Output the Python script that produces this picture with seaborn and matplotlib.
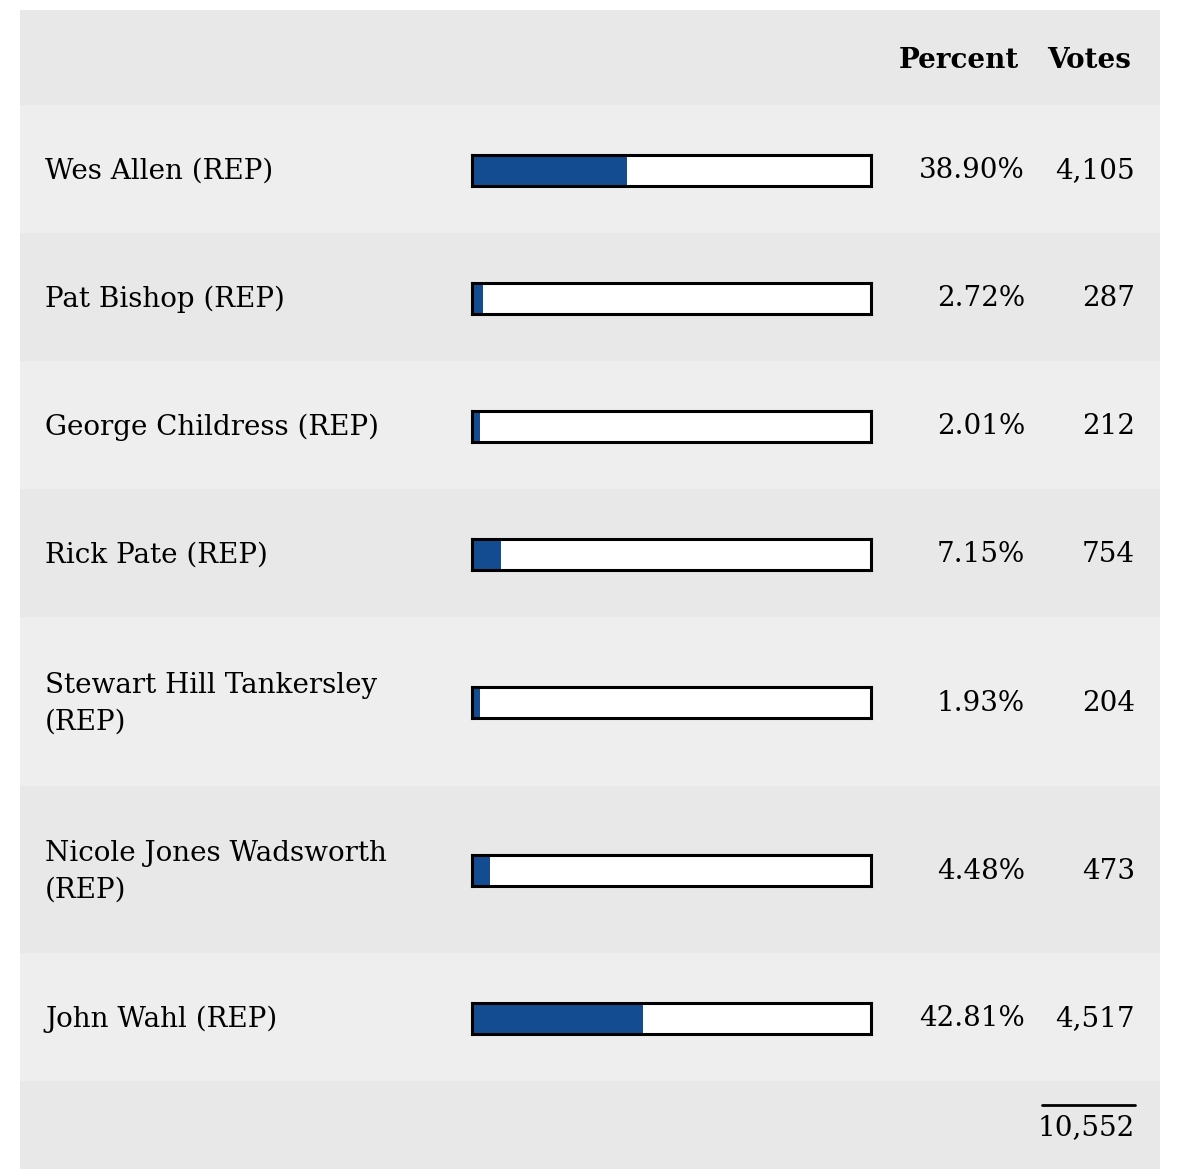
import matplotlib
matplotlib.use("Agg")
import matplotlib.pyplot as plt
import seaborn as sns
import pandas as pd

candidates = ["Wes Allen (REP)", "Pat Bishop (REP)", "George Childress (REP)", "Rick Pate (REP)",
              "Stewart Hill Tankersley\n(REP)", "Nicole Jones Wadsworth\n(REP)", "John Wahl (REP)"]
percents = [38.90, 2.72, 2.01, 7.15, 1.93, 4.48, 42.81]
votes = [4105, 287, 212, 754, 204, 473, 4517]
total_votes = 10552
headers = ["Percent", "Votes"]

sns.set_theme(style="white")
plt.rcParams["font.family"] = ["DejaVu Serif"]
plt.rcParams["text.color"] = "black"

W, H = 1182, 1169
fig = plt.figure(figsize=(W / 100, H / 100), dpi=100)
fig.patch.set_facecolor("white")
ax = fig.add_axes([0, 0, 1, 1])
ax.set_xlim(0, W)
ax.set_ylim(H, 0)
ax.axis("off")

BLUE = "#134C90"
LIGHT = "#eeeeee"
DARK = "#e8e8e8"
FS = 20

# row layout (pixel bands)
row_edges = [(105, 233), (233, 361), (361, 489), (489, 617), (617, 786), (786, 953), (953, 1081)]
x0, x1 = 20, 1160

# header
ax.add_patch(plt.Rectangle((x0, 10), x1 - x0, 95, color=DARK, lw=0))
ax.text(1019, 61, headers[0], ha="right", va="center", fontsize=FS, fontweight="bold", color="black")
ax.text(1131, 61, headers[1], ha="right", va="center", fontsize=FS, fontweight="bold", color="black")

bar_l, bar_r, bar_h = 472, 871, 31
for i, (name, pct, v) in enumerate(zip(candidates, percents, votes)):
    top, bot = row_edges[i]
    ax.add_patch(plt.Rectangle((x0, top), x1 - x0, bot - top, color=LIGHT if i % 2 == 0 else DARK, lw=0))
    cy = (top + bot) / 2
    ax.text(45, cy + 2, name, ha="left", va="center", fontsize=FS, linespacing=1.45, color="black")
    ax.text(1025, cy + 2, f"{pct:.2f}%", ha="right", va="center", fontsize=FS, color="black")
    ax.text(1135, cy + 2, f"{v:,}", ha="right", va="center", fontsize=FS, color="black")
    # bar axes
    bcy = cy + 1
    bax = fig.add_axes([bar_l / W, 1 - (bcy + bar_h / 2) / H, (bar_r - bar_l) / W, bar_h / H])
    df = pd.DataFrame({"pct": [pct], "row": ["r"]})
    sns.barplot(data=df, x="pct", y="row", orient="h", color=BLUE, width=1.0,
                saturation=1, ax=bax, edgecolor="none", linewidth=0)
    bax.set_xlim(0, 100)
    bax.set_ylim(0.5, -0.5)
    bax.set_facecolor("white")
    bax.set_xlabel("")
    bax.set_ylabel("")
    bax.set_xticks([])
    bax.set_yticks([])
    for s in bax.spines.values():
        s.set_visible(True)
        s.set_color("black")
        s.set_linewidth(2.2)

# total row
ax.add_patch(plt.Rectangle((x0, 1081), x1 - x0, H - 1081, color=DARK, lw=0))
ax.plot([1042, 1135], [1105, 1105], color="black", lw=2)
ax.text(1135, 1128, f"{total_votes:,}", ha="right", va="center", fontsize=FS, color="black")

fig.savefig("out.png", dpi=100, facecolor="white")
